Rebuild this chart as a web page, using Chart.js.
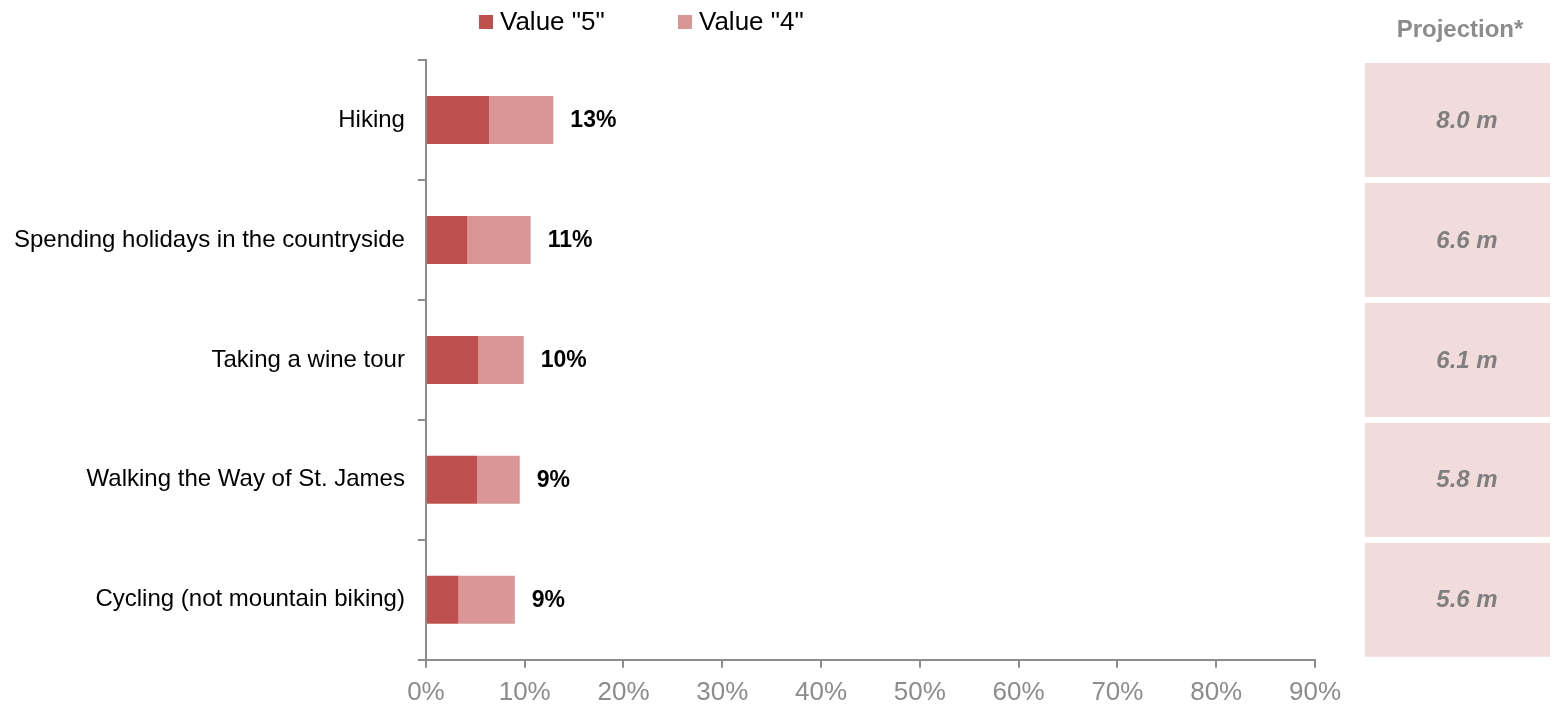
<!DOCTYPE html>
<html>
<head>
<meta charset="utf-8">
<script src="https://cdn.jsdelivr.net/npm/chart.js@4"></script>
<style>
  html, body { margin: 0; padding: 0; background: #fff; }
  #wrap { width: 1552px; height: 707px; position: relative; }
</style>
</head>
<body>
<div id="wrap"><canvas id="myChart"></canvas></div>
<script>
// categories top to bottom
const activities = ['Hiking', 'Spending holidays in the countryside', 'Taking a wine tour', 'Walking the Way of St. James', 'Cycling (not mountain biking)'];
const value5 = [6.4, 4.2, 5.3, 5.2, 3.3];
const value4 = [6.5, 6.4, 4.6, 4.3, 5.7];
const totalLabels = ['13%', '11%', '10%', '9%', '9%'];
const projections = ['8.0 m', '6.6 m', '6.1 m', '5.8 m', '5.6 m'];
const xTicks = [0, 10, 20, 30, 40, 50, 60, 70, 80, 90];

const axisGrey = '#8c8c8c';
const fontFam = '"Liberation Sans", Arial, sans-serif';

// legend drawn by hand so spacing matches
const legendPlugin = {
  id: 'topLegend',
  afterDraw(chart) {
    const ctx = chart.ctx;
    const startX = [479, 678];
    ctx.save();
    ctx.font = '26px ' + fontFam;
    ctx.textAlign = 'left';
    ctx.textBaseline = 'middle';
    chart.data.datasets.forEach((ds, i) => {
      ctx.fillStyle = ds.backgroundColor;
      ctx.fillRect(startX[i], 15, 14, 14);
      ctx.fillStyle = '#000';
      ctx.fillText(ds.label, startX[i] + 21, 23);
    });
    ctx.restore();
  }
};

// total labels at end of each stacked bar
const totalsPlugin = {
  id: 'totals',
  afterDatasetsDraw(chart) {
    const ctx = chart.ctx;
    const meta = chart.getDatasetMeta(1);
    ctx.save();
    ctx.font = 'bold 23px ' + fontFam;
    ctx.fillStyle = '#000';
    ctx.textAlign = 'left';
    ctx.textBaseline = 'middle';
    meta.data.forEach((bar, i) => {
      ctx.fillText(totalLabels[i], bar.x + 17, bar.y + 1);
    });
    ctx.restore();
  }
};

// projection column on the right
const projectionPlugin = {
  id: 'projection',
  afterDraw(chart) {
    const ctx = chart.ctx;
    const y = chart.scales.y;
    const band = y.getPixelForValue(1) - y.getPixelForValue(0);
    ctx.save();
    ctx.font = 'bold 24px ' + fontFam;
    ctx.fillStyle = '#8c8c8c';
    ctx.textAlign = 'center';
    ctx.textBaseline = 'middle';
    ctx.fillText('Projection*', 1460, 30);
    ctx.font = 'italic bold 24px ' + fontFam;
    projections.forEach((p, i) => {
      const cy = y.getPixelForValue(i);
      ctx.fillStyle = '#f2dcdb';
      ctx.fillRect(1365, cy - band / 2 + 3, 185, band - 6);
      ctx.fillStyle = '#7f7f7f';
      ctx.fillText(p, 1467, cy + 1);
    });
    ctx.restore();
  }
};

const config = {
  type: 'bar',
  data: {
    labels: activities,
    datasets: [{
      label: 'Value "5"',
      data: value5,
      backgroundColor: '#c0504d',
      borderWidth: 0
    }, {
      label: 'Value "4"',
      data: value4,
      backgroundColor: '#d99694',
      borderWidth: 0
    }]
  },
  options: {
    indexAxis: 'y',
    responsive: true,
    maintainAspectRatio: false,
    animation: false,
    barPercentage: 0.4,
    categoryPercentage: 1,
    layout: { padding: { left: 1, right: 237, top: 60, bottom: -10 } },
    plugins: {
      legend: { display: false },
      tooltip: { enabled: false }
    },
    scales: {
      x: {
        stacked: true,
        min: 0,
        max: 90,
        afterBuildTicks: axis => { axis.ticks = xTicks.map(v => ({ value: v })); },
        border: { color: axisGrey, width: 2 },
        grid: { drawOnChartArea: false, color: axisGrey, lineWidth: 2, tickLength: 8 },
        ticks: {
          color: axisGrey,
          padding: 9,
          font: { family: fontFam, size: 26 },
          callback: v => v + '%'
        }
      },
      y: {
        stacked: true,
        border: { color: axisGrey, width: 2 },
        grid: { drawOnChartArea: false, color: axisGrey, lineWidth: 2, tickLength: 8 },
        ticks: {
          color: '#000',
          padding: 13,
          font: { family: fontFam, size: 24 }
        }
      }
    }
  },
  plugins: [legendPlugin, totalsPlugin, projectionPlugin]
};

const ctx = document.getElementById('myChart').getContext('2d');
new Chart(ctx, config);
</script>
</body>
</html>
